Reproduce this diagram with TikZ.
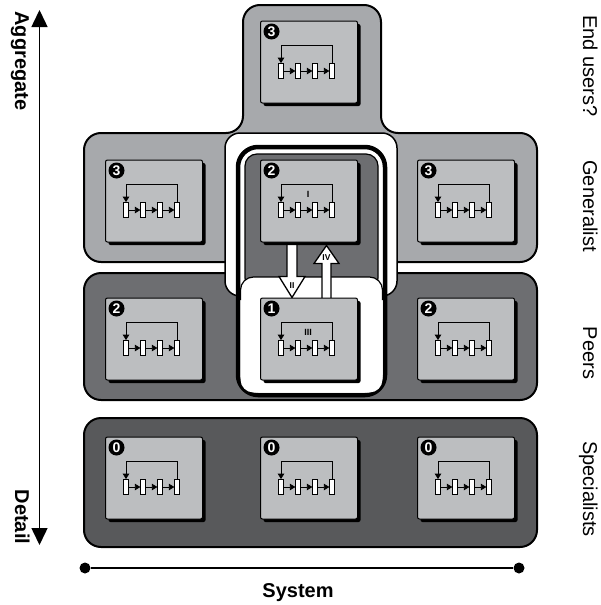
\documentclass[tikz,border=0pt]{standalone}
\usepackage{fontspec}
\setmainfont{Liberation Sans}
\usetikzlibrary{arrows.meta,calc,shadows}

\definecolor{crossgray}{HTML}{A7A9AC}
\definecolor{boxgray}{HTML}{BCBEC0}
\definecolor{peergray}{HTML}{6D6E71}
\definecolor{specgray}{HTML}{58595B}

\pgfdeclarelayer{bands}
\pgfdeclarelayer{links}
\pgfsetlayers{bands,links,main}

\begin{document}
\begin{tikzpicture}[x=1pt,y=-1pt,
  band/.style={draw=black, line width=2pt, rounded corners=17pt},
  unit/.style={draw=black, line width=1pt, fill=boxgray, rounded corners=2pt,
    minimum width=97pt, minimum height=82pt, inner sep=0pt,
    general shadow={fill=black, shadow xshift=3pt, shadow yshift=-3pt}},
  cell/.style={draw=black, line width=0.8pt, fill=white, minimum width=4.5pt,
    minimum height=15pt, inner sep=0pt},
  flow/.style={line width=0.8pt, -{Triangle[length=5.5pt,width=6.5pt]}},
  num/.style={circle, fill=black, text=white, minimum size=16pt, inner sep=0pt,
    font=\fontsize{14}{14}\selectfont\bfseries},
  roman/.style={font=\fontsize{9}{9}\selectfont\bfseries, inner sep=0pt},
  hollow/.style={draw=black, line width=1.3pt, fill=white, line join=miter},
  axislabel/.style={font=\fontsize{20}{24}\selectfont\bfseries, rotate=-90, anchor=base},
  rowlabel/.style={font=\fontsize{20}{24}\selectfont, rotate=-90, anchor=base},
  dot/.style={circle, fill=black, minimum size=11pt, inner sep=0pt},
  cyc/.pic={
    \foreach \i in {0,1,2,3} \node[cell] (-c\i) at (17*\i,0) {};
    \foreach \i/\j in {0/1,1/2,2/3} \draw[flow] (-c\i) -- (-c\j);
    \draw[flow] (-c3.north) -- ++(0,-18) -| (-c0.north);
  }
]
\useasboundingbox (0,0) rectangle (601,605);

% work units: box, level badge, internal cycle
\foreach \n/\px/\py/\k in {t/309/62/3, gl/154/201/3, gc/309/201/2, gr/466/201/3,
    pl/154/339/2, pc/309/339/1, pr/466/339/2, sl/154/478/0, sc/309/478/0, sr/466/478/0} {
  \node[unit] (\n) at (\px,\py) {};
  \node[num] (\n-num) at ($(\n.north west)+(11.5,11)$) {\k};
  \pic (\n) at ($(\n.north west)+(21,50.5)$) {cyc};
}
\node[roman] (lblI) at ($(gc.north)+(-1,35)$) {I};
\node[roman] (lblIII) at ($(pc.north)+(-1,35)$) {III};

% hand-over arrows between the two levels
\begin{pgfonlayer}{links}
  \draw[hollow] ($(gc.south)+(-22,-8)$) -- ($(pc.north)+(-22,-21)$) -- ($(pc.north)+(-30,-21)$)
    -- ($(pc.north)+(-17,0)$) -- ($(pc.north)+(-4,-21)$) -- ($(pc.north)+(-12,-21)$)
    -- ($(gc.south)+(-12,-8)$) -- cycle;
  \draw[hollow] ($(pc.north)+(13,8)$) -- ($(gc.south)+(13,21)$) -- ($(gc.south)+(5,21)$)
    -- ($(gc.south)+(17.5,3)$) -- ($(gc.south)+(30,21)$) -- ($(gc.south)+(22,21)$)
    -- ($(pc.north)+(22,8)$) -- cycle;
\end{pgfonlayer}
\node[roman, font=\fontsize{8.5}{8.5}\selectfont\bfseries] (lblII) at ($(pc.north)+(-17,-12)$) {II};
\node[roman, font=\fontsize{8.5}{8.5}\selectfont\bfseries] (lblIV) at ($(gc.south)+(17.5,15)$) {IV};

% level bands
\begin{pgfonlayer}{bands}
  \draw[band, fill=crossgray] (84,200) -- (84,133) -- (243,133) -- (243,5) -- (381,5)
    -- (381,133) -- (537,133) -- (537,262) -- (84,262) -- cycle;
  \draw[band, fill=peergray] (84,273) rectangle (537,400);
  \draw[band, fill=specgray] (84,418) rectangle (537,547);
  % white halo around the team column
  \draw[line width=1.5pt, fill=white, rounded corners=15pt] (225,133) rectangle (397,296);
  % team column
  \draw[line width=4.5pt, fill=white, rounded corners=20pt] (238,147) rectangle (385,395);
  \draw[line width=1.2pt, fill=peergray, rounded corners=12pt] (245,154) rectangle (378,290);
  \fill[white, rounded corners=13pt] (240.5,277) rectangle (382.5,392.5);
  \draw[line width=1.2pt, rounded corners=13pt] (240.5,300) -- (240.5,277) -- (382.5,277) -- (382.5,300);
\end{pgfonlayer}

% vertical axis
\coordinate (agg) at (39.5,10);
\coordinate (det) at (39.5,545);
\draw[line width=1.5pt, {Triangle[length=17pt,width=16pt]}-{Triangle[length=17pt,width=16pt]}] (agg) -- (det);
\node[axislabel] (aggl) at (15,61) {Aggregate};
\node[axislabel] (detl) at (15,517) {Detail};

% horizontal axis
\node[dot] (s0) at (85,568) {};
\node[dot] (s1) at (519,568) {};
\draw[line width=1.8pt] (s0) -- (s1);
\node[font=\fontsize{20}{24}\selectfont\bfseries, anchor=base] (sysl) at (298,597) {System};

% level names
\node[rowlabel] (r0) at (583,66) {End users?};
\node[rowlabel] (r1) at (583,206) {Generalist};
\node[rowlabel] (r2) at (583,353) {Peers};
\node[rowlabel] (r3) at (583,489) {Specialists};
\end{tikzpicture}
\end{document}
